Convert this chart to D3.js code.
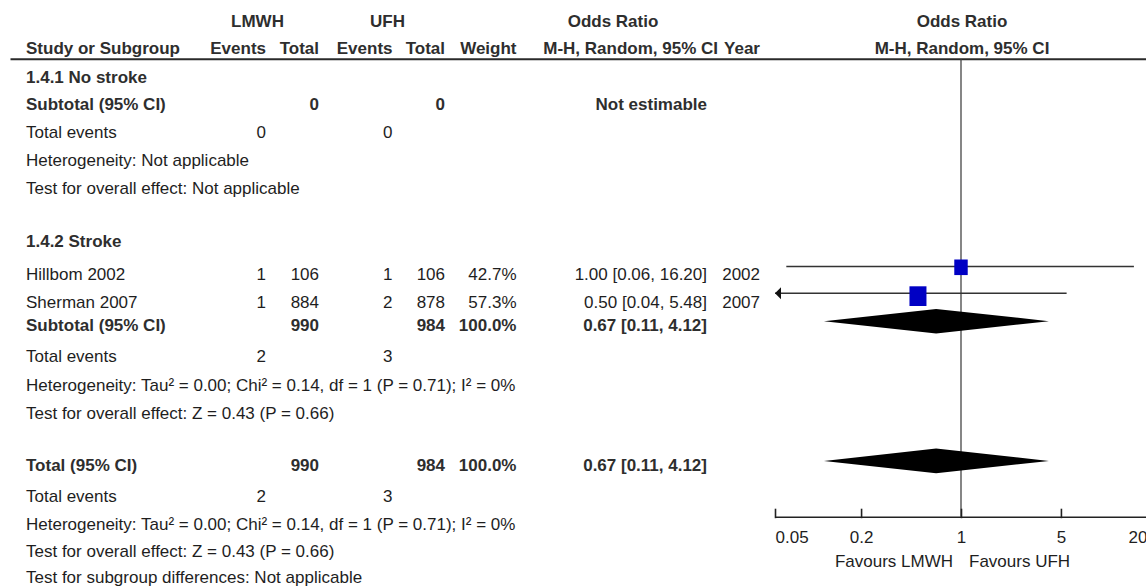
<!DOCTYPE html>
<html><head><meta charset="utf-8">
<script src="https://cdn.jsdelivr.net/npm/d3@7"></script>
<style>
body{margin:0;background:#fff;}
svg{display:block;}
text{font-family:"Liberation Sans",Arial,sans-serif;font-size:17px;fill:#1e1e1e;}
text.b{font-weight:bold;fill:#2e2e2e;}
</style>
</head><body>
<svg id="c" width="1146" height="586"></svg>
<script>
// ---- data ----
const studies = ["Hillbom 2002", "Sherman 2007"];
const lmwhEvents = [1, 1];
const lmwhTotal = [106, 884];
const ufhEvents = [1, 2];
const ufhTotal = [106, 878];
const weights = [42.7, 57.3];
const orEst = [1.00, 0.50];
const orLow = [0.06, 0.04];
const orHigh = [16.20, 5.48];
const orText = ["1.00 [0.06, 16.20]", "0.50 [0.04, 5.48]"];
const years = [2002, 2007];

const pooledLabels = ["Subtotal (95% CI)", "Total (95% CI)"];
const pooledLmwhTotal = [990, 990];
const pooledUfhTotal = [984, 984];
const pooledLmwhEvents = [2, 2];
const pooledUfhEvents = [3, 3];
const pooledWeight = ["100.0%", "100.0%"];
const pooledEst = [0.67, 0.67];
const pooledLow = [0.11, 0.11];
const pooledHigh = [4.12, 4.12];
const pooledText = ["0.67 [0.11, 4.12]", "0.67 [0.11, 4.12]"];
const hetText = "Heterogeneity: Tau² = 0.00; Chi² = 0.14, df = 1 (P = 0.71); I² = 0%";
const effectText = "Test for overall effect: Z = 0.43 (P = 0.66)";

const tickValues = [0.05, 0.2, 1, 5, 20];
const tickLabels = ["0.05", "0.2", "1", "5", "20"];

// ---- layout ----
const svg = d3.select("#c");
const X = {name: 26, lE: 266, lT: 319, uE: 392.5, uT: 445, w: 516.5, or: 707, yr: 760};
const Y = {hdr1: 26.7, hdr2: 54, rule: 59.3, g1: 82.7, sub1: 110, te1: 137.5, het1: 165.5, test1: 193.5,
  g2: 247.3, s: [280, 308], sub2: 331, te2: 362, het2: 390.7, test2: 419,
  tot: 470.7, te3: 501.7, het3: 530, test3: 557.3, sg: 583, axis: 516.7};

const x = d3.scaleLog().domain([0.05, 20]).range([775, 1147]);
const sqW = d3.scalePow().exponent(0.8).domain([0, 57.3]).range([0, 17]);
const sqH = d3.scalePow().exponent(0.8).domain([0, 57.3]).range([0, 19.7]);

function t(xp, yp, str, opts = {}) {
  return svg.append("text").attr("x", xp).attr("y", yp)
    .attr("text-anchor", opts.anchor || "start")
    .attr("class", opts.bold ? "b" : null)
    .text(str);
}

// headers
t(257.5, Y.hdr1, "LMWH", {bold: 1, anchor: "middle"});
t(387.5, Y.hdr1, "UFH", {bold: 1, anchor: "middle"});
t(613, Y.hdr1, "Odds Ratio", {bold: 1, anchor: "middle"});
t(962, Y.hdr1, "Odds Ratio", {bold: 1, anchor: "middle"});
t(X.name, Y.hdr2, "Study or Subgroup", {bold: 1});
t(X.lE, Y.hdr2, "Events", {bold: 1, anchor: "end"});
t(X.lT, Y.hdr2, "Total", {bold: 1, anchor: "end"});
t(X.uE, Y.hdr2, "Events", {bold: 1, anchor: "end"});
t(X.uT, Y.hdr2, "Total", {bold: 1, anchor: "end"});
t(X.w, Y.hdr2, "Weight", {bold: 1, anchor: "end"});
t(718, Y.hdr2, "M-H, Random, 95% CI", {bold: 1, anchor: "end"});
t(X.yr, Y.hdr2, "Year", {bold: 1, anchor: "end"});
t(962, Y.hdr2, "M-H, Random, 95% CI", {bold: 1, anchor: "middle"});

svg.append("line").attr("x1", 10.5).attr("x2", 1146).attr("y1", Y.rule).attr("y2", Y.rule)
  .attr("stroke", "#2a2a2a").attr("stroke-width", 2);

// vertical line of no effect
svg.append("line").attr("x1", x(1)).attr("x2", x(1)).attr("y1", Y.rule).attr("y2", Y.axis)
  .attr("stroke", "#444").attr("stroke-width", 1.3);

// subgroup 1.4.1
t(X.name, Y.g1, "1.4.1 No stroke", {bold: 1});
t(X.name, Y.sub1, "Subtotal (95% CI)", {bold: 1});
t(X.lT, Y.sub1, "0", {bold: 1, anchor: "end"});
t(X.uT, Y.sub1, "0", {bold: 1, anchor: "end"});
t(X.or, Y.sub1, "Not estimable", {bold: 1, anchor: "end"});
t(X.name, Y.te1, "Total events");
t(X.lE, Y.te1, "0", {anchor: "end"});
t(X.uE, Y.te1, "0", {anchor: "end"});
t(X.name, Y.het1, "Heterogeneity: Not applicable");
t(X.name, Y.test1, "Test for overall effect: Not applicable");

// subgroup 1.4.2
t(X.name, Y.g2, "1.4.2 Stroke", {bold: 1});
studies.forEach((s, i) => {
  const yb = Y.s[i];
  t(X.name, yb, s);
  t(X.lE, yb, lmwhEvents[i], {anchor: "end"});
  t(X.lT, yb, lmwhTotal[i], {anchor: "end"});
  t(X.uE, yb, ufhEvents[i], {anchor: "end"});
  t(X.uT, yb, ufhTotal[i], {anchor: "end"});
  t(X.w, yb, weights[i].toFixed(1) + "%", {anchor: "end"});
  t(X.or, yb, orText[i], {anchor: "end"});
  t(X.yr, yb, years[i], {anchor: "end"});

  const ly = yb - 13.5 + (i === 1 ? -1.2 : 0);
  const [d0, d1] = x.domain();
  const lo = Math.max(orLow[i], d0), hi = Math.min(orHigh[i], d1);
  svg.append("line").attr("x1", x(lo)).attr("x2", x(hi)).attr("y1", ly).attr("y2", ly)
    .attr("stroke", "#333").attr("stroke-width", 1.4);
  if (orLow[i] < d0) {
    const ax = x(d0);
    svg.append("path").attr("d", `M${ax},${ly}L${ax + 6},${ly - 6}L${ax + 6},${ly + 6}Z`).attr("fill", "#111");
  }
  if (orHigh[i] > d1) {
    const ax = x(d1);
    svg.append("path").attr("d", `M${ax},${ly}L${ax - 6},${ly - 6}L${ax - 6},${ly + 6}Z`).attr("fill", "#111");
  }
  const w = sqW(weights[i]), h = sqH(weights[i]);
  svg.append("rect").attr("x", x(orEst[i]) - w / 2).attr("y", ly - 7).attr("width", w).attr("height", h)
    .attr("fill", "#0000c4");
});

function pooledRow(k, yb) {
  t(X.name, yb, pooledLabels[k], {bold: 1});
  t(X.lT, yb, pooledLmwhTotal[k], {bold: 1, anchor: "end"});
  t(X.uT, yb, pooledUfhTotal[k], {bold: 1, anchor: "end"});
  t(X.w, yb, pooledWeight[k], {bold: 1, anchor: "end"});
  t(X.or, yb, pooledText[k], {bold: 1, anchor: "end"});
  const cy = yb - 9.8, hh = 12.3;
  svg.append("path")
    .attr("d", `M${x(pooledLow[k])},${cy}L${x(pooledEst[k])},${cy - hh}L${x(pooledHigh[k])},${cy}L${x(pooledEst[k])},${cy + hh}Z`)
    .attr("fill", "#000");
}
function eventsRow(k, yb) {
  t(X.name, yb, "Total events");
  t(X.lE, yb, pooledLmwhEvents[k], {anchor: "end"});
  t(X.uE, yb, pooledUfhEvents[k], {anchor: "end"});
}

pooledRow(0, Y.sub2);
eventsRow(0, Y.te2);
t(X.name, Y.het2, hetText);
t(X.name, Y.test2, effectText);

pooledRow(1, Y.tot);
eventsRow(1, Y.te3);
t(X.name, Y.het3, hetText);
t(X.name, Y.test3, effectText);
t(X.name, Y.sg, "Test for subgroup differences: Not applicable");

// axis
const axis = d3.axisBottom(x).tickValues(tickValues).tickSize(-8).tickSizeOuter(0).tickPadding(14)
  .tickFormat((d, i) => tickLabels[i]);
const g = svg.append("g").attr("transform", `translate(0,${Y.axis})`).call(axis);
g.select(".domain").attr("stroke", "#222").attr("stroke-width", 1.6);
g.selectAll(".tick line").attr("stroke", "#222").attr("stroke-width", 1.6).attr("y2", -8).attr("y1", 1.5);
g.selectAll(".tick text").attr("fill", "#1e1e1e").style("font-size", "17px")
  .style("font-family", '"Liberation Sans",Arial,sans-serif');
g.selectAll(".tick text").filter((d, i) => i === 0).attr("text-anchor", "start");
g.selectAll(".tick text").filter((d, i) => i === tickValues.length - 1).attr("text-anchor", "end");
g.attr("font-size", null).attr("font-family", null);

t(x(1) - 8, 567, "Favours LMWH", {anchor: "end"}).attr("fill", "#3a3a3a");
t(x(1) + 8, 567, "Favours UFH").attr("fill", "#3a3a3a");
</script>
</body></html>
